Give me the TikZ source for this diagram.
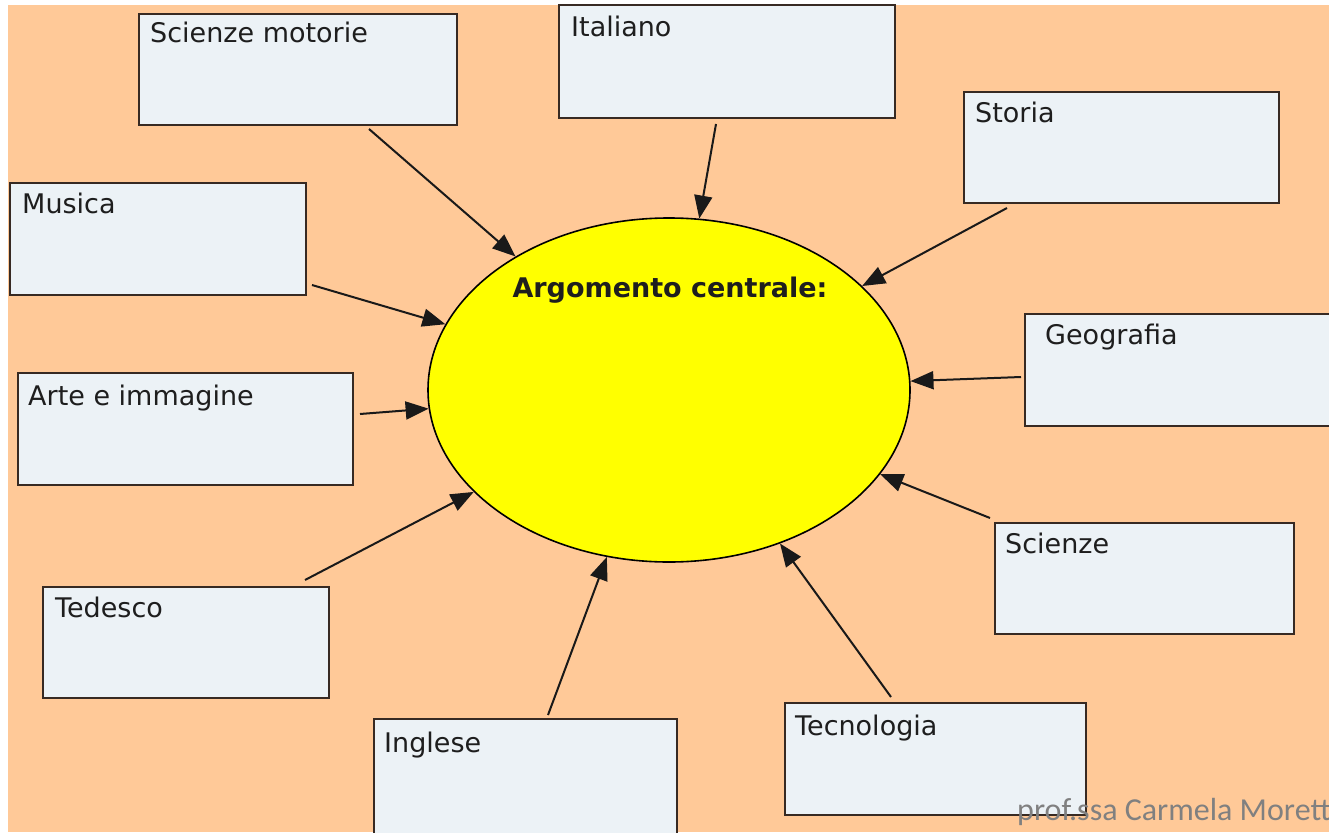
\documentclass[tikz,border=0pt]{standalone}
\usepackage{fontspec}
\setmainfont{DejaVu Sans}
\newfontfamily\sigfont{Carlito}
\usetikzlibrary{shapes.geometric,arrows.meta}
\definecolor{peach}{RGB}{255,201,152}
\definecolor{boxfill}{RGB}{236,242,246}
\definecolor{boxline}{RGB}{55,42,35}
\definecolor{txt}{RGB}{30,30,30}
\definecolor{sig}{RGB}{128,128,128}
\definecolor{sun}{RGB}{255,255,0}
\tikzset{
  subj/.style={draw=boxline, fill=boxfill, line width=2.4pt, rectangle, inner sep=0pt},
  lbl/.style={anchor=base west, inner sep=0pt, text=txt, font=\fontsize{27}{30}\selectfont},
  arr/.style={line width=2pt, draw=black!90, -{Triangle[length=23pt,width=18pt]}},
}
\begin{document}
\begin{tikzpicture}[x=1pt,y=-1pt]
\useasboundingbox (0,0) rectangle (1329,832);
\fill[white] (0,0) rectangle (1329,832);
\fill[peach] (8,5) rectangle (1329,832);

% central ellipse
\node[ellipse, draw=black, line width=1.6pt, fill=sun, minimum width=482pt, minimum height=344pt, inner sep=0pt] (e) at (669,390) {};
\node[anchor=base, inner sep=0pt, text=txt, font=\fontsize{27}{30}\bfseries\selectfont] (etitle) at (670,297) {Argomento centrale:};

% subject boxes
\node[subj, minimum width=318pt, minimum height=111pt] (sm) at (298,69.5) {};
\node[subj, minimum width=336pt, minimum height=113pt] (it) at (727,61.5) {};
\node[subj, minimum width=315pt, minimum height=111pt] (st) at (1121.5,147.5) {};
\node[subj, minimum width=296pt, minimum height=112pt] (mu) at (158,239) {};
\node[subj, minimum width=306pt, minimum height=112pt] (ge) at (1178,370) {};
\node[subj, minimum width=335pt, minimum height=112pt] (ar) at (185.5,429) {};
\node[subj, minimum width=299pt, minimum height=111pt] (sc) at (1144.5,578.5) {};
\node[subj, minimum width=286pt, minimum height=111pt] (te) at (186,642.5) {};
\node[subj, minimum width=303pt, minimum height=121pt] (in) at (525.5,779.5) {};
\node[subj, minimum width=301pt, minimum height=112pt] (tc) at (935.5,759) {};

% labels
\node[lbl] (lsm) at (150,43) {Scienze motorie};
\node[lbl] (lit) at (571,37) {Italiano};
\node[lbl] (lst) at (975,122) {Storia};
\node[lbl] (lmu) at (22,213) {Musica};
\node[lbl] (lge) at (1045,344) {Geografia};
\node[lbl] (lar) at (28,405) {Arte e immagine};
\node[lbl] (lsc) at (1005,553) {Scienze};
\node[lbl] (lte) at (55,617) {Tedesco};
\node[lbl] (lin) at (384,752) {Inglese};
\node[lbl] (ltc) at (795,735) {Tecnologia};

% arrow start points
\coordinate (csm) at (369,129);
\coordinate (cit) at (716,124);
\coordinate (cst) at (1007,208);
\coordinate (cmu) at (312,285);
\coordinate (cge) at (1021,377);
\coordinate (car) at (360,414);
\coordinate (csc) at (990,518);
\coordinate (cte) at (305,580);
\coordinate (cin) at (548,715);
\coordinate (ctc) at (891,697);

\draw[arr] (csm) -- (e);
\draw[arr] (cit) -- (e);
\draw[arr] (cst) -- (e);
\draw[arr] (cmu) -- (e);
\draw[arr] (cge) -- (e);
\draw[arr] (car) -- (e);
\draw[arr] (csc) -- (e);
\draw[arr] (cte) -- (e);
\draw[arr] (cin) -- (e);
\draw[arr] (ctc) -- (e);

% signature
\node[anchor=base west, inner sep=0pt, text=sig, font=\sigfont\fontsize{32}{34}\selectfont] (sign) at (1017,820) {prof.ssa Carmela Morett};
\end{tikzpicture}
\end{document}
